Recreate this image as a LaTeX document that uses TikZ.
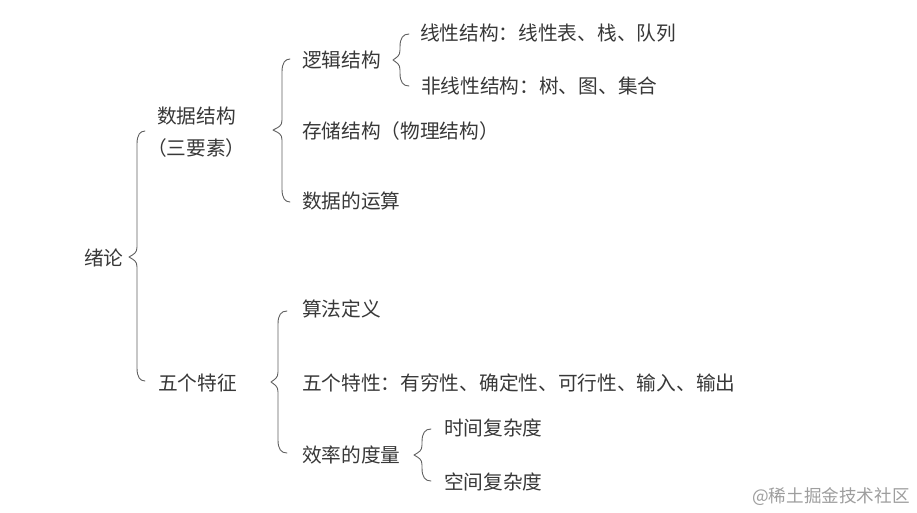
\documentclass[tikz,border=0pt]{standalone}
\usepackage{fontspec}
\setmainfont{Noto Sans CJK SC}
\tikzset{
  x=1pt,y=-1pt,
  lbl/.style={anchor=west,inner sep=0pt,outer sep=0pt,text=black!78,font=\fontsize{19.7}{22}\selectfont},
  brc/.style={draw=black!62,line width=0.9pt,line cap=round,line join=round},
  wm/.style={anchor=west,inner sep=0pt,text=black!38,font=\fontsize{17.6}{19}\selectfont}
}
% name, tip x, tip y, spine x, end x, top y, bottom y
\newcommand{\curlyb}[7]{%
  \coordinate (#1tip) at (#2,#3);
  \coordinate (#1top) at (#5,#6);
  \coordinate (#1bot) at (#5,#7);
  \draw[brc] (#1top) .. controls (#4+3,#6) and (#4,#6+4) .. (#4,#6+13)
    -- (#4,#3-10) .. controls (#4,#3-4) and (#4-3,#3-3) .. (#1tip)
    .. controls (#4-3,#3+3) and (#4,#3+4) .. (#4,#3+10)
    -- (#4,#7-13) .. controls (#4,#7-4) and (#4+3,#7) .. (#1bot);
}
\begin{document}
\begin{tikzpicture}
\useasboundingbox[fill=white] (0,0) rectangle (917,512);
\node[lbl] (root) at (84,258) {绪论};
\node[lbl] (ds) at (157,116) {数据结构};
\node[lbl] (three) at (147,148) {（三要素）};
\node[lbl] (five) at (158,383) {五个特征};
\node[lbl] (logic) at (302,60) {逻辑结构};
\node[lbl] (store) at (302,131) {存储结构（物理结构）};
\node[lbl] (ops) at (302,201) {数据的运算};
\node[lbl] (lin) at (420,33) {线性结构：线性表、栈、队列};
\node[lbl] (nonlin) at (421,86) {非线性结构：树、图、集合};
\node[lbl] (algo) at (302,309) {算法定义};
\node[lbl] (props) at (302,383) {五个特性：有穷性、确定性、可行性、输入、输出};
\node[lbl] (eff) at (302,455) {效率的度量};
\node[lbl] (time) at (444,428) {时间复杂度};
\node[lbl] (space) at (444,482) {空间复杂度};
\node[wm] (mark) at (752,497) {@稀土掘金技术社区};
\curlyb{a}{129}{257}{137}{145}{131}{381}
\curlyb{b}{273}{130}{282}{290}{59}{202}
\curlyb{c}{393}{60}{400}{409}{34}{86}
\curlyb{d}{271}{382}{278}{287}{311}{453}
\curlyb{e}{414}{455}{422}{431}{429}{481}
\end{tikzpicture}
\end{document}
